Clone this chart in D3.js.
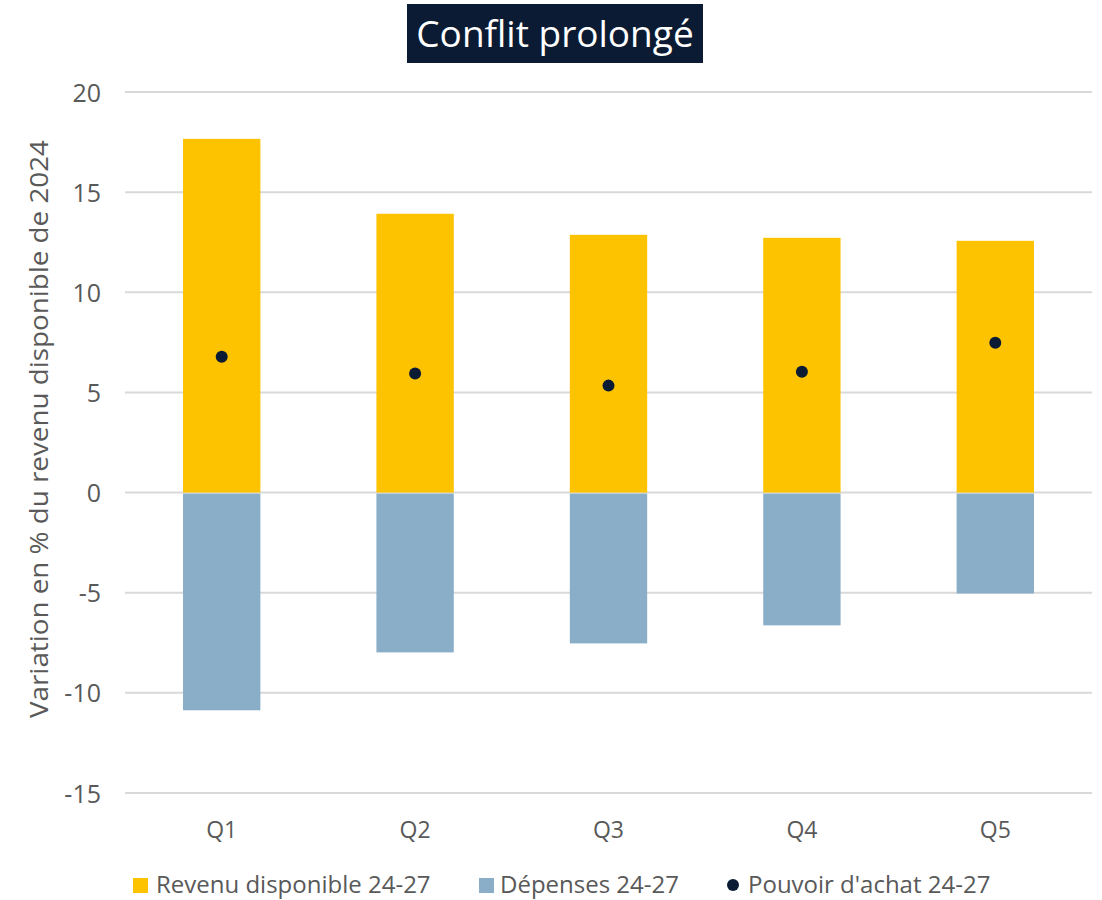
<!DOCTYPE html>
<html>
<head>
<meta charset="utf-8">
<script src="https://cdn.jsdelivr.net/npm/d3@7"></script>
<style>
body{margin:0;background:#fff;}
text{font-family:"Open Sans",sans-serif;}
</style>
</head>
<body>
<svg id="chart" width="1102" height="900"></svg>
<script>
var quintiles = ["Q1","Q2","Q3","Q4","Q5"];
var revenu = [17.66, 13.92, 12.87, 12.72, 12.57];
var depenses = [-10.87, -7.98, -7.53, -6.63, -5.04];
var pouvoir = [6.78, 5.94, 5.34, 6.03, 7.48];
var yTicks = [20, 15, 10, 5, 0, -5, -10, -15];

var svg = d3.select("#chart");
var x = d3.scaleBand().domain(quintiles).range([125,1092]).paddingInner(0.6).paddingOuter(0.3);
var y = d3.scaleLinear().domain([-15,20]).range([793,92]);

// grid
svg.append("g").selectAll("line").data(yTicks).enter()
	.append("line")
	.attr("x1",125).attr("x2",1092)
	.attr("y1",d=>y(d)).attr("y2",d=>y(d))
	.attr("stroke","#d9d9d9").attr("stroke-width",2);

svg.append("g").selectAll("text").data(yTicks).enter()
	.append("text").text(d=>d)
	.attr("x",101).attr("y",d=>y(d)).attr("dy",9.5)
	.attr("text-anchor","end").attr("font-size",25).attr("fill","#595959");

// bars
var rows = quintiles.map((q,i)=>({q:q,r:revenu[i],d:depenses[i],p:pouvoir[i]}));
svg.append("g").selectAll("rect").data(rows).enter()
	.append("rect")
	.attr("x",d=>x(d.q)).attr("width",x.bandwidth())
	.attr("y",d=>y(d.r)).attr("height",d=>y(0)-y(d.r))
	.attr("fill","#fdc300");
svg.append("g").selectAll("rect").data(rows).enter()
	.append("rect")
	.attr("x",d=>x(d.q)).attr("width",x.bandwidth())
	.attr("y",d=>y(0)+1).attr("height",d=>y(d.d)-y(0)-1)
	.attr("fill","#8aaec8");
svg.append("g").selectAll("circle").data(rows).enter()
	.append("circle")
	.attr("cx",d=>x(d.q)+x.bandwidth()/2).attr("cy",d=>y(d.p))
	.attr("r",6).attr("fill","#0a1b33");

// x labels
svg.append("g").selectAll("text").data(quintiles).enter()
	.append("text").text(d=>d)
	.attr("x",d=>x(d)+x.bandwidth()/2).attr("y",838)
	.attr("text-anchor","middle").attr("font-size",23).attr("fill","#595959");

// y title
svg.append("text").text("Variation en % du revenu disponible de 2024")
	.attr("transform","translate(48,429) rotate(-90)")
	.attr("text-anchor","middle").attr("font-size",25)
	.attr("textLength",578).attr("lengthAdjust","spacingAndGlyphs")
	.attr("fill","#595959");

// title
svg.append("rect").attr("x",407).attr("y",4).attr("width",296).attr("height",59).attr("fill","#0a1b33");
svg.append("text").text("Conflit prolongé")
	.attr("x",555).attr("y",47).attr("text-anchor","middle")
	.attr("font-size",37).attr("fill","#fff");

// legend
var leg = [
	{label:"Revenu disponible 24-27",color:"#fdc300",type:"rect",x:133,tx:156},
	{label:"Dépenses 24-27",color:"#8aaec8",type:"rect",x:479,tx:500},
	{label:"Pouvoir d'achat 24-27",color:"#0a1b33",type:"dot",x:733,tx:748}
];
var lg = svg.append("g").selectAll("g").data(leg).enter().append("g");
lg.filter(d=>d.type=="rect").append("rect")
	.attr("x",d=>d.x).attr("y",878).attr("width",15).attr("height",15)
	.attr("fill",d=>d.color);
lg.filter(d=>d.type=="dot").append("circle")
	.attr("cx",d=>d.x).attr("cy",885).attr("r",6)
	.attr("fill",d=>d.color);
lg.append("text").text(d=>d.label)
	.attr("x",d=>d.tx).attr("y",893)
	.attr("font-size",24).attr("fill","#595959");
</script>
</body>
</html>
